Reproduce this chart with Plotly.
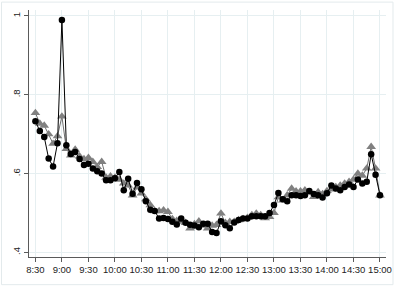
import pandas as pd
import plotly.graph_objects as go

# 5-minute observations, 8:30 - 15:00
times = pd.date_range("2020-01-01 08:30", "2020-01-01 15:00", freq="5min")

series_black = [
    0.733, 0.708, 0.693, 0.638, 0.618, 0.677, 0.990, 0.672, 0.650, 0.655,
    0.637, 0.622, 0.625, 0.613, 0.606, 0.600, 0.583, 0.583, 0.588, 0.604,
    0.558, 0.587, 0.549, 0.576, 0.560, 0.530, 0.508, 0.505, 0.486, 0.487,
    0.485, 0.478, 0.471, 0.486, 0.475, 0.470, 0.468, 0.464, 0.473, 0.473,
    0.452, 0.449, 0.479, 0.469, 0.461, 0.476, 0.482, 0.486, 0.486, 0.492,
    0.492, 0.492, 0.492, 0.500, 0.520, 0.551, 0.535, 0.530, 0.545, 0.545,
    0.543, 0.545, 0.556, 0.548, 0.545, 0.539, 0.550, 0.570, 0.562, 0.558,
    0.566, 0.572, 0.566, 0.585, 0.575, 0.579, 0.649, 0.597, 0.545,
]
series_gray = [
    0.754, 0.727, 0.722, 0.700, 0.676, 0.695, 0.745, 0.663, 0.646, 0.661,
    0.644, 0.637, 0.640, 0.630, 0.617, 0.630, 0.590, 0.593, 0.590, 0.585,
    0.575, 0.570, 0.545, 0.565, 0.550, 0.535, 0.520, 0.505, 0.505, 0.507,
    0.503, 0.485, 0.480, 0.478, 0.475, 0.461, 0.472, 0.479, 0.468, 0.461,
    0.468, 0.470, 0.499, 0.475, 0.478, 0.478, 0.482, 0.485, 0.488, 0.495,
    0.499, 0.495, 0.487, 0.490, 0.500, 0.540, 0.532, 0.545, 0.562, 0.555,
    0.555, 0.558, 0.552, 0.541, 0.553, 0.548, 0.556, 0.560, 0.566, 0.570,
    0.575, 0.579, 0.585, 0.600, 0.595, 0.613, 0.668, 0.613, 0.545,
]

x_ticks = pd.date_range("2020-01-01 08:30", "2020-01-01 15:00", freq="30min")
x_tick_labels = ["8:30", "9:00", "9:30", "10:00", "10:30", "11:00", "11:30",
                 "12:00", "12:30", "13:00", "13:30", "14:00", "14:30", "15:00"]
y_ticks = [0.4, 0.6, 0.8, 1.0]
y_tick_labels = [".4", ".6", ".8", "1"]

fig = go.Figure()
fig.add_trace(go.Scatter(
    x=times, y=series_gray, mode="lines+markers",
    line=dict(color="#6e6e6e", width=1),
    marker=dict(symbol="triangle-up", size=8.5, color="#808080"),
    showlegend=False, cliponaxis=False,
))
fig.add_trace(go.Scatter(
    x=times, y=series_black, mode="lines+markers",
    line=dict(color="#000000", width=1),
    marker=dict(symbol="circle", size=6.5, color="#000000"),
    showlegend=False, cliponaxis=False,
))

grid_col = "#e6eff1"
axis_col = "#5a5a5a"
font = dict(family="Liberation Sans, Arial", size=9.5, color="#222")
fig.update_xaxes(
    range=["2020-01-01 08:22:45", "2020-01-01 15:06:48"],
    tickvals=list(x_ticks), ticktext=x_tick_labels,
    showgrid=True, gridcolor=grid_col, gridwidth=1,
    showline=True, linecolor=axis_col, linewidth=1,
    ticks="outside", ticklen=4, tickcolor=axis_col,
    tickfont=font, automargin=False,
    zeroline=False,
)
fig.update_yaxes(
    range=[0.3883, 1.0152],
    tickvals=y_ticks, ticktext=y_tick_labels, tickangle=-90,
    showgrid=True, gridcolor=grid_col, gridwidth=1,
    showline=True, linecolor=axis_col, linewidth=1,
    ticks="outside", ticklen=4, tickcolor=axis_col,
    tickfont=font, automargin=False,
    zeroline=False,
)

# light outer frame of the graph region
fig.add_shape(type="rect", xref="paper", yref="paper",
              x0=-0.077, x1=1.0196, y0=-0.112, y1=1.032,
              line=dict(color="#e3eaec", width=1), fillcolor="rgba(0,0,0,0)",
              layer="below")

fig.update_layout(
    width=396, height=288,
    margin=dict(l=29, r=10, t=10, b=31),
    paper_bgcolor="white", plot_bgcolor="white",
)

fig.write_html(
    "out.html",
    config={"displayModeBar": False},
    post_script="document.body.style.margin='0';document.body.style.overflow='hidden';",
)
